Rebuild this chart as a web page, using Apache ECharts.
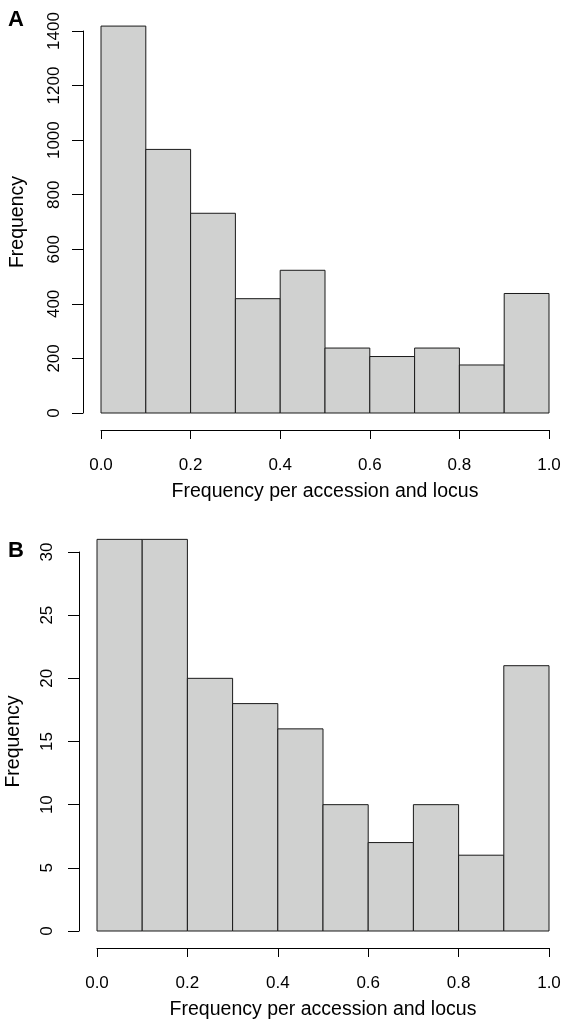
<!DOCTYPE html>
<html>
<head>
<meta charset="utf-8">
<script src="https://cdn.jsdelivr.net/npm/echarts@6/dist/echarts.min.js"></script>
<style>
html, body { margin: 0; padding: 0; background: #fff; }
#chart { width: 562px; height: 1019px; }
</style>
</head>
<body>
<div id="chart"></div>
<script>
// histogram bins (left edges), width 0.1
var binStarts = [0.0, 0.1, 0.2, 0.3, 0.4, 0.5, 0.6, 0.7, 0.8, 0.9];
var binWidth = 0.1;
// panel A counts
var countsA = [1418, 966, 732, 419, 523, 238, 207, 238, 176, 438];
// panel B counts
var countsB = [31, 31, 20, 18, 16, 10, 7, 10, 6, 21];
var xTicks = [0, 0.2, 0.4, 0.6, 0.8, 1.0];
var yTicksA = [0, 200, 400, 600, 800, 1000, 1200, 1400];
var yTicksB = [0, 5, 10, 15, 20, 25, 30];

var fontFam = '"Liberation Sans", Arial, Helvetica, sans-serif';
var axisCol = '#000';

function histData(counts) {
	var out = [];
	for (var i = 0; i < counts.length; i++) {
		out.push([binStarts[i], binStarts[i] + binWidth, counts[i]]);
	}
	return out;
}

function renderBar(params, api) {
	var p0 = api.coord([api.value(0), 0]);
	var p1 = api.coord([api.value(1), api.value(2)]);
	return {
		type: 'rect',
		shape: { x: p0[0], y: p1[1], width: p1[0] - p0[0], height: p0[1] - p1[1] },
		style: { fill: '#d0d1d0', stroke: '#1a1a1a', lineWidth: 1 }
	};
}

function xAxisDef(idx) {
	return {
		gridIndex: idx,
		type: 'value',
		min: xTicks[0], max: xTicks[xTicks.length - 1], interval: xTicks[1] - xTicks[0],
		offset: 17,
		name: 'Frequency per accession and locus',
		nameLocation: 'middle',
		nameGap: 52,
		nameTextStyle: { color: '#000', fontFamily: fontFam, fontSize: 19.5 },
		axisLine: { show: true, onZero: false, lineStyle: { color: axisCol, width: 1 } },
		axisTick: { show: true, length: 9, lineStyle: { color: axisCol } },
		axisLabel: {
			color: '#000', fontFamily: fontFam, fontSize: 17, margin: 27,
			formatter: function(v) { return v.toFixed(1); }
		},
		splitLine: { show: false }
	};
}

function yAxisDef(idx, ticks, labelMargin) {
	return {
		gridIndex: idx,
		type: 'value',
		min: ticks[0], max: ticks[ticks.length - 1], interval: ticks[1] - ticks[0],
		offset: 18,
		name: 'Frequency',
		nameLocation: 'middle',
		nameGap: 55,
		nameRotate: 90,
		nameTextStyle: { color: '#000', fontFamily: fontFam, fontSize: 19.5 },
		axisLine: { show: true, onZero: false, lineStyle: { color: axisCol, width: 1 } },
		axisTick: { show: true, length: 11, lineStyle: { color: axisCol } },
		axisLabel: {
			color: '#000', fontFamily: fontFam, fontSize: 17, margin: labelMargin, rotate: 90,
			formatter: function(v) { return String(v); }
		},
		splitLine: { show: false }
	};
}

var chart = echarts.init(document.getElementById('chart'));
var option = {
	animation: false,
	backgroundColor: '#fff',
	grid: [
		{ left: 101, right: 13, top: 31, bottom: 606, containLabel: false, outerBoundsMode: 'none' },
		{ left: 97, right: 13, top: 552, bottom: 88, containLabel: false, outerBoundsMode: 'none' }
	],
	xAxis: [xAxisDef(0), xAxisDef(1)],
	yAxis: [yAxisDef(0, yTicksA, 20), yAxisDef(1, yTicksB, 23)],
	graphic: [
		{ type: 'text', left: 8, top: 9, style: { text: 'A', fontFamily: fontFam, fontSize: 22, fontWeight: 'bold', fill: '#000' } },
		{ type: 'text', left: 8, top: 540, style: { text: 'B', fontFamily: fontFam, fontSize: 22, fontWeight: 'bold', fill: '#000' } }
	],
	series: [
		{ type: 'custom', xAxisIndex: 0, yAxisIndex: 0, clip: false, renderItem: renderBar, data: histData(countsA) },
		{ type: 'custom', xAxisIndex: 1, yAxisIndex: 1, clip: false, renderItem: renderBar, data: histData(countsB) }
	]
};
chart.setOption(option);
</script>
</body>
</html>
